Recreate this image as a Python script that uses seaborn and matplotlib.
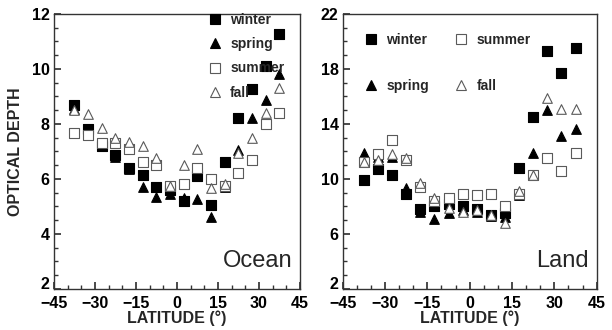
import numpy as np
import pandas as pd
import matplotlib
matplotlib.use("Agg")
import matplotlib.pyplot as plt
import seaborn as sns
from matplotlib.ticker import MultipleLocator, FixedLocator
from matplotlib.lines import Line2D

# ---- data ----
lat = [-37.5, -32.5, -27.5, -22.5, -17.5, -12.5, -7.5, -2.5,
       2.5, 7.5, 12.5, 17.5, 22.5, 27.5, 32.5, 37.5]

ocean_winter = [8.7, 7.8, 7.2, 6.85, 6.4, 6.15, 5.7, 5.6, 5.2, 6.1, 5.05, 6.6, 8.2, 9.25, 10.1, 11.25]
ocean_spring = [8.55, 7.75, 7.3, 6.8, 6.35, 5.7, 5.35, 5.45, 5.3, 5.25, 4.6, 5.7, 7.05, 8.2, 8.85, 9.8]
ocean_summer = [7.65, 7.6, 7.3, 7.3, 7.1, 6.6, 6.5, 5.75, 5.8, 6.4, 6.0, 5.75, 6.2, 6.7, 8.0, 8.4]
ocean_fall = [8.5, 8.35, 7.85, 7.5, 7.35, 7.2, 6.75, 5.75, 6.5, 7.1, 5.65, 5.8, 6.95, 7.5, 8.4, 9.3]

land_winter = [9.9, 10.7, 10.3, 8.9, 7.8, 8.0, 8.2, 8.0, 7.8, 7.4, 7.5, 10.8, 14.5, 19.3, 17.7, 19.5]
land_spring = [11.9, 11.6, 11.6, 9.3, 7.6, 7.1, 7.5, 7.7, 7.6, 7.3, 7.2, 8.8, 11.9, 15.0, 13.1, 13.6]
land_summer = [11.2, 11.8, 12.8, 11.4, 9.4, 8.4, 8.6, 8.9, 8.8, 8.9, 8.0, 8.9, 10.3, 11.5, 10.6, 11.9]
land_fall = [11.2, 11.4, 11.8, 11.5, 9.7, 8.6, 7.9, 7.6, 7.7, 7.4, 6.8, 9.1, 10.3, 15.9, 15.1, 15.1]

ocean_yticks = [2, 4, 6, 8, 10, 12]
land_yticks = [2, 6, 10, 14, 18, 22]

seasons = ["winter", "spring", "summer", "fall"]
ocean = dict(zip(seasons, [ocean_winter, ocean_spring, ocean_summer, ocean_fall]))
land = dict(zip(seasons, [land_winter, land_spring, land_summer, land_fall]))

styles = {
    "winter": dict(marker="s", facecolor="black", edgecolor="black"),
    "spring": dict(marker="^", facecolor="black", edgecolor="black"),
    "summer": dict(marker="s", facecolor="white", edgecolor="#5a5a5a"),
    "fall": dict(marker="^", facecolor="white", edgecolor="#5a5a5a"),
}

sns.set_theme(style="white")
plt.rcParams['font.family'] = ['Liberation Sans', 'DejaVu Sans']

fig = plt.figure(figsize=(6.12, 3.30), dpi=100)
ax1 = fig.add_axes([0.088, 0.125, 0.402, 0.833])
ax2 = fig.add_axes([0.560, 0.125, 0.415, 0.833])

def draw(ax, data):
    for s in seasons:
        df = pd.DataFrame({"lat": lat, "tau": data[s]})
        st = styles[s]
        sns.scatterplot(data=df, x="lat", y="tau", ax=ax, marker=st["marker"],
                        facecolor=st["facecolor"], edgecolor=st["edgecolor"],
                        linewidth=0.8, s=48, zorder=3)
    ax.set_xlim(-45, 45)
    ax.xaxis.set_major_locator(MultipleLocator(15))
    ax.xaxis.set_minor_locator(MultipleLocator(5))
    for sp in ax.spines.values():
        sp.set_color("#333333")
        sp.set_linewidth(1.0)
    ax.tick_params(which="both", direction="in", bottom=True, left=True,
                   top=False, right=False, colors="#333333")
    ax.tick_params(which="major", length=5, labelsize=11.5, labelcolor="black", pad=3)
    ax.tick_params(axis="x", which="major", pad=5)
    ax.tick_params(which="minor", length=3)
    ax.set_xlabel("LATITUDE (°)", fontsize=11.5, fontweight="bold", labelpad=0)

draw(ax1, ocean)
ax1.set_ylim(2, 12)
ax1.yaxis.set_major_locator(FixedLocator(ocean_yticks))
ax1.yaxis.set_minor_locator(MultipleLocator(0.5))
ax1.set_ylabel("OPTICAL DEPTH", fontsize=11.5, fontweight="bold", labelpad=6)

draw(ax2, land)
ax2.set_ylim(2, 22)
ax2.yaxis.set_major_locator(FixedLocator(land_yticks))
ax2.yaxis.set_minor_locator(MultipleLocator(1))
ax2.set_ylabel("")

for ax in (ax1, ax2):
    for lab in ax.get_xticklabels() + ax.get_yticklabels():
        lab.set_fontweight("bold")
    # lowest y label sits slightly raised, as in the reference
    ax.yaxis.get_major_ticks()[0].label1.set_verticalalignment("baseline")

ax1.text(0.97, 0.06, "Ocean", transform=ax1.transAxes, ha="right", va="bottom", fontsize=17)
ax2.text(0.97, 0.06, "Land", transform=ax2.transAxes, ha="right", va="bottom", fontsize=17)

def handles():
    hs = []
    for s in seasons:
        st = styles[s]
        hs.append(Line2D([], [], linestyle="none", marker=st["marker"], markersize=7,
                         markerfacecolor=st["facecolor"], markeredgecolor=st["edgecolor"],
                         markeredgewidth=0.8, label=s))
    return hs

leg1 = ax1.legend(handles=handles(), loc="upper left", bbox_to_anchor=(0.57, 1.05),
                  frameon=False, prop=dict(weight="bold", size=10),
                  handletextpad=0.5, labelspacing=0.75, handlelength=1.2)
leg2 = ax2.legend(handles=handles(), loc="upper left", bbox_to_anchor=(0.03, 0.975),
                  ncol=2, frameon=False, prop=dict(weight="bold", size=10),
                  handletextpad=0.5, labelspacing=2.3, handlelength=1.2, columnspacing=1.7)

fig.savefig("out.png", dpi=100)
